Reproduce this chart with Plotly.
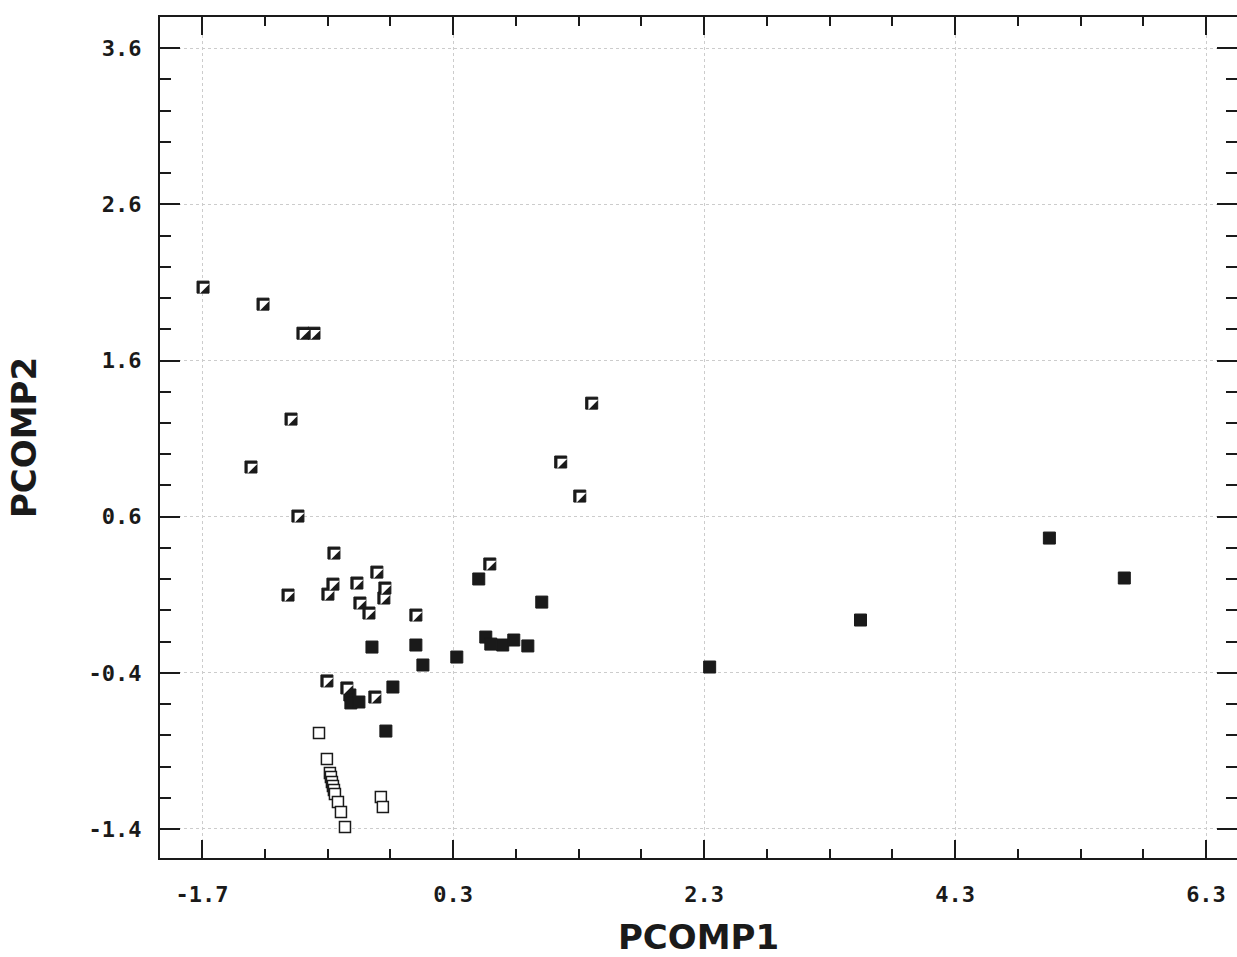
import plotly.graph_objects as go

# ---- data ----
half_x = [-1.692, -1.214, -0.896, -0.808, -0.991, -1.310, -0.936,
          -0.649, -0.307, -0.657, -0.697, -0.466, -0.243, -0.251, -0.442, -0.370, -1.015, 0.004,
          0.593, 1.158, 1.310, 1.405,
          -0.705, -0.546, -0.323]
half_y = [2.070, 1.961, 1.775, 1.775, 1.225, 0.918, 0.604,
          0.367, 0.245, 0.168, 0.104, 0.175, 0.143, 0.079, 0.047, -0.017, 0.098, -0.030,
          0.297, 0.950, 0.732, 1.327,
          -0.452, -0.497, -0.555]

filled_x = [-0.346, 0.004, 0.060, 0.330, 0.505, 0.561, 0.601, 0.696, 0.784, 0.896, 1.007,
            2.345, 3.547, 5.052, 5.649, -0.179, -0.235, -0.522, -0.514, -0.450]
filled_y = [-0.235, -0.222, -0.350, -0.299, 0.201, -0.171, -0.216, -0.222, -0.190, -0.228, 0.053,
            -0.363, -0.062, 0.463, 0.207, -0.491, -0.773, -0.542, -0.593, -0.587]

open_x = [-0.768, -0.705, -0.681, -0.673, -0.665, -0.657, -0.649, -0.641, -0.617, -0.593, -0.561,
          -0.275, -0.259]
open_y = [-0.785, -0.952, -1.041, -1.067, -1.099, -1.125, -1.150, -1.176, -1.227, -1.291, -1.387,
          -1.195, -1.259]

x_ticks = [-1.7, 0.3, 2.3, 4.3, 6.3]
x_tick_labels = ["-1.7", "0.3", "2.3", "4.3", "6.3"]
y_ticks = [-1.4, -0.4, 0.6, 1.6, 2.6, 3.6]
y_tick_labels = ["-1.4", "-0.4", "0.6", "1.6", "2.6", "3.6"]

x_title = "PCOMP1"
y_title = "PCOMP2"

# ---- figure ----
INK = "#1a1a1a"
fig = go.Figure()

fig.add_trace(go.Scatter(x=open_x, y=open_y, mode="markers", name="open",
                         marker=dict(symbol="square", size=11, color="white",
                                     line=dict(color=INK, width=1.5))))
fig.add_trace(go.Scatter(x=filled_x, y=filled_y, mode="markers", name="filled",
                         marker=dict(symbol="square", size=12, color=INK,
                                     line=dict(color=INK, width=1))))
# half-filled squares: black square with white upper-left triangle on top
fig.add_trace(go.Scatter(x=half_x, y=half_y, mode="markers", name="half",
                         marker=dict(symbol="square", size=12, color=INK,
                                     line=dict(color=INK, width=1))))
fig.add_trace(go.Scatter(x=half_x, y=half_y, mode="markers", name="half_top",
                         marker=dict(symbol="triangle-nw", size=11, color="white",
                                     line=dict(width=0))))

tickfont = dict(family="DejaVu Sans Mono", size=22, color=INK, weight="bold")
titlefont = dict(family="DejaVu Sans", size=34, color=INK, weight="bold")

fig.update_layout(
    width=1237, height=957,
    margin=dict(l=160, r=0, t=17, b=99),
    paper_bgcolor="white", plot_bgcolor="white",
    showlegend=False,
    hovermode=False,
    xaxis=dict(
        range=[-2.035, 6.547], automargin=False,
        tickmode="array", tickvals=x_ticks, ticktext=x_tick_labels,
        ticks="inside", ticklen=18, tickwidth=2, tickcolor=INK,
        minor=dict(tick0=-1.7, dtick=0.5, ticks="inside", ticklen=9, tickwidth=1.5,
                   tickcolor=INK, showgrid=False),
        showline=True, linecolor=INK, linewidth=2, mirror="ticks",
        showgrid=True, gridcolor="#cccccc", griddash="dot", gridwidth=1,
        zeroline=False,
        tickfont=tickfont, ticklabelstandoff=16,
        title=dict(text=x_title, font=titlefont, standoff=24),
    ),
    yaxis=dict(
        range=[-1.586, 3.8], automargin=False,
        tickmode="array", tickvals=y_ticks, ticktext=y_tick_labels,
        ticks="inside", ticklen=20, tickwidth=2, tickcolor=INK,
        minor=dict(tick0=-1.4, dtick=0.2, ticks="inside", ticklen=11, tickwidth=1.5,
                   tickcolor=INK, showgrid=False),
        showline=True, linecolor=INK, linewidth=2, mirror="ticks",
        showgrid=True, gridcolor="#cccccc", griddash="dot", gridwidth=1,
        zeroline=False,
        tickfont=tickfont, ticklabelstandoff=12,
        title=dict(text=y_title, font=titlefont, standoff=42),
    ),
)

fig.write_html(
    "out.html",
    config={"displayModeBar": False},
    post_script="document.body.style.margin='0';document.body.style.overflow='hidden';",
)
